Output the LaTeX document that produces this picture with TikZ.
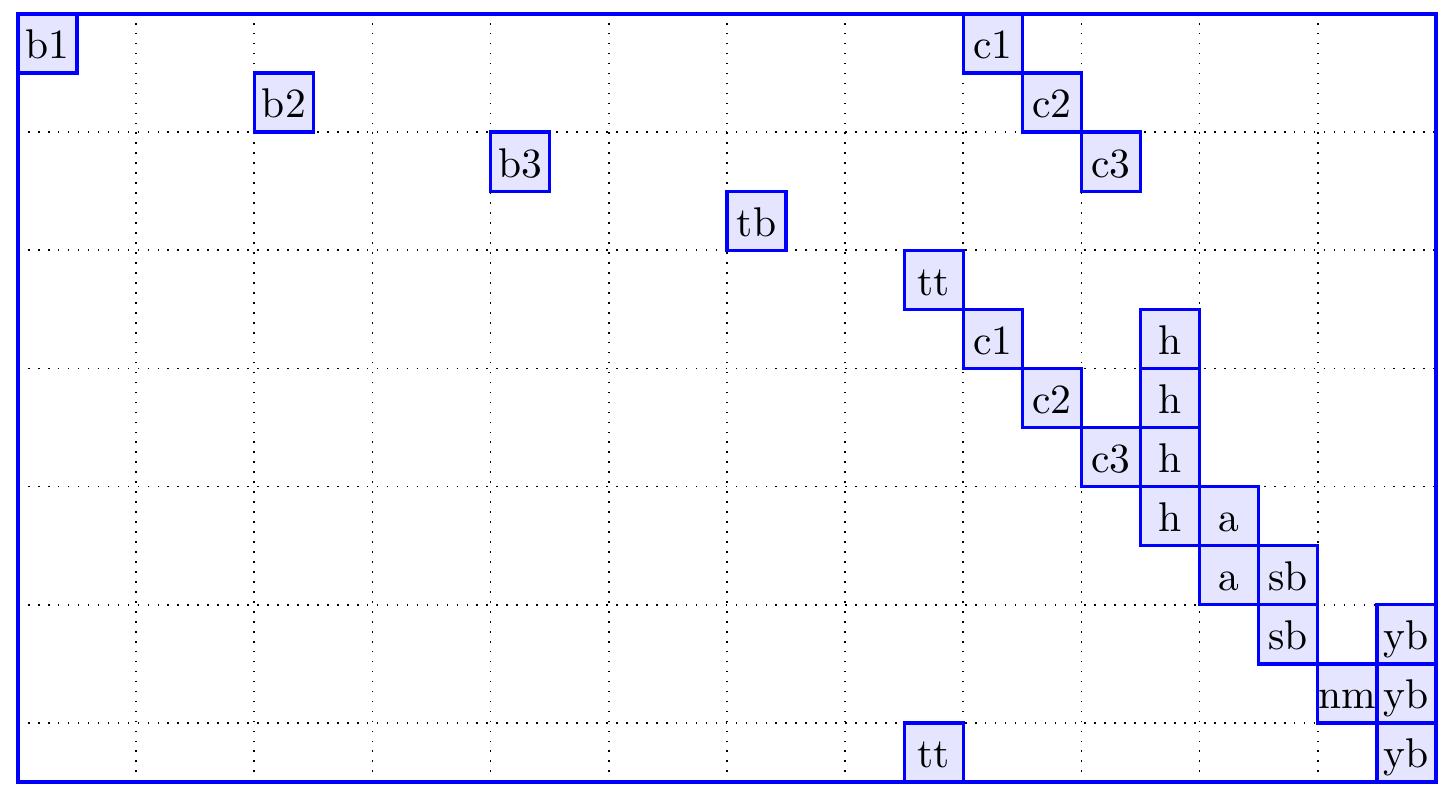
\documentclass[tikz,border=0pt]{standalone}
\begin{document}
\begin{tikzpicture}[x=0.5cm,y=-0.5cm,
  cell/.style={draw=blue, fill=blue!10, thick, minimum size=0.5cm, inner sep=0pt,
    text height=8pt, text depth=0.6pt, anchor=center},
  frame/.style={draw=blue, thick},
  gridline/.style={dotted, black, thin}]
\useasboundingbox (-0.304,-0.236) rectangle (24.322,13.288);
\draw[gridline] (0,0) grid[step=1cm] (24,13);
\draw[frame] (0,0) rectangle (24,13);
\foreach \name/\lab/\c/\r in {
  b1/b1/0/0, b2/b2/4/1, b3/b3/8/2, tb/tb/12/3, tta/tt/15/4,
  c1a/c1/16/0, c2a/c2/17/1, c3a/c3/18/2,
  c1b/c1/16/5, c2b/c2/17/6, c3b/c3/18/7,
  h1/h/19/5, h2/h/19/6, h3/h/19/7, h4/h/19/8,
  a1/a/20/8, a2/a/20/9, sb1/sb/21/9, sb2/sb/21/10,
  nm/nm/22/11, yb1/yb/23/10, yb2/yb/23/11, yb3/yb/23/12, ttb/tt/15/12}
  \node[cell] (\name) at (\c+0.5,\r+0.5) {\lab};
\end{tikzpicture}
\end{document}
